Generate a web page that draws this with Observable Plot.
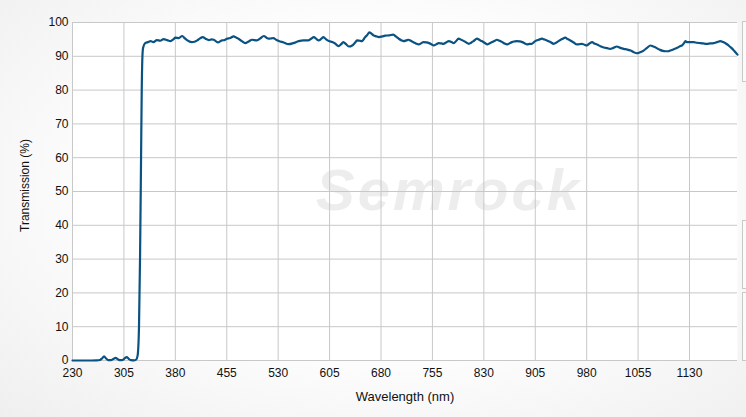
<!DOCTYPE html>
<html>
<head>
<meta charset="utf-8">
<script src="https://cdn.jsdelivr.net/npm/d3@7"></script>
<script src="https://cdn.jsdelivr.net/npm/@observablehq/plot@0.6"></script>
<style>
  html, body { margin: 0; padding: 0; }
  body {
    width: 746px; height: 417px; overflow: hidden; position: relative;
    background: radial-gradient(ellipse at 52% 45%, #ffffff 45%, #efefef 100%);
    font-family: "Liberation Sans", Arial, sans-serif;
  }
  #chart { position: absolute; left: 0; top: 0; }
  .lbox { position: absolute; left: 742px; width: 12px; border: 1px solid #c8c8c8; background: #fbfbfb; }
</style>
</head>
<body>
<div id="chart"></div>
<div class="lbox" style="top:21px;height:59px;"></div>
<div class="lbox" style="top:220px;height:67px;"></div>
<div class="lbox" style="top:292px;height:67px;"></div>
<script>
const wavelength = [
  230, 250, 265, 270, 273, 276, 279, 282, 286, 290, 293, 296, 300, 303, 306, 309, 312, 315, 320, 323,
  325, 327, 328.5, 330, 331, 332, 333, 336, 340, 344, 348, 353, 358, 363, 368, 373, 377, 380, 385, 390,
  394, 397, 404, 408, 412, 416, 420, 424, 429, 433, 436, 442, 448, 452, 455, 460, 465, 469, 472, 477,
  482, 487, 492, 499, 504, 509, 513, 516, 520, 523, 527, 531, 538, 545, 552, 560, 567, 574, 578, 582,
  586, 589, 593, 596, 600, 604, 609, 613, 618, 622, 625, 629, 633, 638, 642, 645, 649, 652, 657, 660,
  663, 666, 669, 673, 677, 682, 686, 692, 698, 702, 706, 710, 713, 717, 720, 724, 728, 731, 735, 739,
  742, 746, 750, 754, 757, 761, 764, 768, 771, 775, 779, 783, 786, 790, 793, 797, 801, 805, 808, 812,
  815, 820, 824, 827, 831, 835, 838, 842, 846, 849, 853, 857, 860, 864, 868, 871, 875, 878, 882, 886,
  890, 893, 897, 900, 905, 910, 915, 918, 922, 927, 932, 936, 939, 944, 949, 952, 956, 961, 966, 970,
  973, 977, 980, 984, 988, 991, 995, 1000, 1005, 1010, 1014, 1019, 1024, 1029, 1034, 1039, 1044, 1048, 1053, 1058,
  1063, 1068, 1073, 1077, 1080, 1084, 1087, 1091, 1095, 1099, 1102, 1107, 1112, 1116, 1119, 1122, 1124, 1126, 1131, 1136,
  1141, 1146, 1150, 1155, 1160, 1165, 1170, 1175, 1179, 1183, 1187, 1191, 1194, 1197, 1200
];
const transmission = [
  0, 0, 0.05, 0.15, 0.6, 1.2, 0.6, 0.1, 0.1, 0.5, 0.75, 0.4, 0.1, 0.15, 0.6, 1.0, 0.5, 0.1, 0.05, 0.3,
  1.5, 10, 30, 60, 80, 90, 92.5, 93.9, 94.2, 94.5, 94.2, 94.8, 94.6, 95.1, 94.8, 94.5, 95.0, 95.5, 95.4, 96.0,
  95.3, 94.8, 94.2, 94.3, 94.7, 95.3, 95.7, 95.2, 94.8, 95.0, 94.9, 94.1, 94.7, 94.8, 95.2, 95.4, 95.9, 95.5, 95.2, 94.5,
  93.9, 94.4, 94.9, 94.7, 95.3, 96.0, 95.5, 95.2, 95.3, 95.4, 94.9, 94.5, 94.1, 93.6, 93.9, 94.5, 94.7, 94.7, 95.2, 95.7,
  95.1, 94.7, 95.2, 95.7, 95.0, 94.5, 94.2, 93.8, 93.0, 93.6, 94.2, 93.6, 92.9, 93.2, 94.0, 94.7, 94.6, 94.5, 95.7, 96.3,
  97.1, 96.7, 96.2, 95.9, 95.7, 95.9, 96.1, 96.2, 96.4, 95.8, 95.2, 94.7, 94.5, 94.7, 94.9, 94.5, 94.1, 93.8, 93.5, 93.9,
  94.2, 94.1, 93.9, 93.5, 93.2, 93.6, 93.9, 93.8, 93.7, 94.1, 94.5, 94.2, 93.9, 94.6, 95.2, 94.9, 94.5, 94.0, 93.7, 94.1,
  94.5, 95.2, 94.8, 94.5, 94.0, 93.5, 93.8, 94.2, 94.6, 94.9, 94.6, 94.2, 93.8, 93.5, 93.9, 94.2, 94.4, 94.5, 94.4, 94.2,
  93.8, 93.5, 93.7, 93.7, 94.5, 94.9, 95.2, 95.0, 94.7, 94.2, 93.7, 94.1, 94.5, 95.1, 95.5, 95.1, 94.7, 94.1, 93.5, 93.6,
  93.7, 93.4, 93.2, 93.8, 94.2, 93.8, 93.5, 93.0, 92.6, 92.4, 92.2, 92.5, 92.9, 92.5, 92.2, 92.0, 91.7, 91.3, 90.9, 91.2,
  91.7, 92.5, 93.2, 92.9, 92.7, 92.2, 91.9, 91.6, 91.5, 91.5, 91.7, 92.1, 92.5, 93.0, 93.2, 93.9, 94.5, 94.2, 94.2, 94.2,
  94.0, 93.9, 93.8, 93.7, 93.8, 93.9, 94.2, 94.5, 94.2, 93.8, 93.2, 92.5, 91.9, 91.2, 90.5
];
const xTicks = [230, 305, 380, 455, 530, 605, 680, 755, 830, 905, 980, 1055, 1130];
const yTicks = [0, 10, 20, 30, 40, 50, 60, 70, 80, 90, 100];
const xLabel = "Wavelength (nm)";
const yLabel = "Transmission (%)";
const watermark = ["Semrock"];

const data = wavelength.map((w, i) => ({w, t: transmission[i]}));

const chart = Plot.plot({
  width: 746,
  height: 417,
  marginLeft: 72,
  marginRight: 9,
  marginTop: 22,
  marginBottom: 57,
  style: {background: "transparent", fontFamily: "'Liberation Sans', Arial, sans-serif", fontSize: "12px", color: "#111"},
  x: {domain: [230, 1200]},
  y: {domain: [0, 100]},
  marks: [
    Plot.frame({fill: "white", stroke: null}),
    Plot.text(watermark, {frameAnchor: "middle", dx: 44, dy: 0, text: d => d, fontSize: 58, fontWeight: "bold", fontStyle: "italic", fill: "#ededed", fontFamily: "'Liberation Sans', Arial, sans-serif"}),
    Plot.gridX(xTicks, {stroke: "#c8c8c8", strokeOpacity: 1}),
    Plot.gridY(yTicks, {stroke: "#c8c8c8", strokeOpacity: 1}),
    Plot.axisX(xTicks, {tickSize: 0, tickPadding: 8, tickFormat: d => String(d), label: xLabel, labelAnchor: "center", labelArrow: "none", labelOffset: 40, fill: "#111"}),
    Plot.axisY(yTicks, {tickSize: 0, tickPadding: 4, tickFormat: d => String(d), label: yLabel, labelAnchor: "center", labelArrow: "none", labelOffset: 52, fill: "#111"}),
    Plot.line(data, {x: "w", y: "t", stroke: "#0a5282", strokeWidth: 2.2, curve: "monotone-x"})
  ]
});
d3.select(chart).selectAll("text").filter(function() { return this.textContent === "Semrock"; })
  .attr("letter-spacing", "3px");
d3.select(chart).selectAll('g[aria-label="x-axis label"] text').attr("font-size", 13);
d3.select(chart).selectAll('g[aria-label="y-axis label"] text').attr("dx", "6");
document.getElementById("chart").appendChild(chart);
</script>
</body>
</html>
